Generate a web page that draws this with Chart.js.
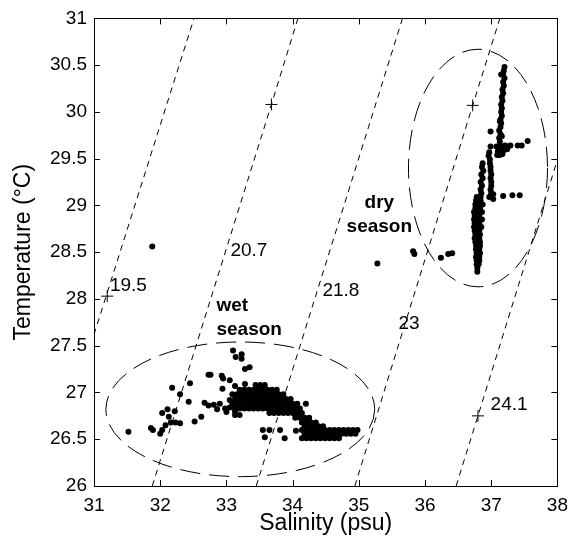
<!DOCTYPE html>
<html lang="en">
<head>
<meta charset="UTF-8">
<title>T-S diagram</title>
<script src="https://cdn.jsdelivr.net/npm/chart.js"></script>
<style>
  body { margin: 0; background: #fff; }
</style>
</head>
<body>
<canvas id="tsChart" width="576" height="548"></canvas>
<script>
const xTicks = [31, 32, 33, 34, 35, 36, 37, 38];
const yTicks = [26, 26.5, 27, 27.5, 28, 28.5, 29, 29.5, 30, 30.5, 31];

// [salinity, temperature]
const wetSeason = [
  [31.52,26.58],[31.86,26.62],[31.89,26.60],[32.00,26.56],[32.03,26.60],[32.08,26.65],[32.03,26.78],
  [32.11,26.82],[32.13,26.74],[32.16,26.68],[32.22,26.80],[32.23,26.68],[32.30,26.67],[32.18,27.05],
  [32.30,26.98],[32.45,27.10],[32.43,26.90],[32.52,26.69],[32.62,26.74],[32.67,26.89],[32.73,27.19],
  [32.76,27.19],[32.93,27.18],[32.95,27.15],[32.94,27.04],[33.05,27.13],[33.10,27.45],[33.14,27.38],
  [33.23,27.41],[33.23,27.36],[33.28,27.25],[33.35,27.27],[32.73,26.86],[32.81,26.87],[32.86,26.82],
  [32.90,26.88],[32.98,26.83],[33.00,26.79],[33.05,26.92],[33.10,26.87],[33.13,26.80],[33.05,26.84],
  [33.13,26.76],[33.20,26.76],[33.55,26.60],[33.58,26.52],[33.65,26.60],[33.81,26.60],[33.88,26.51],
  [34.05,26.59],[34.20,26.88],[33.13,27.07],[33.28,27.09],
  [33.44,27.08],[33.51,27.08],[33.58,27.08],
  [33.20,27.03],[33.27,27.03],[33.34,27.03],[33.41,27.03],[33.48,27.03],[33.55,27.03],[33.62,27.03],[33.69,27.03],[33.76,27.03],
  [33.09,26.98],[33.16,26.98],[33.23,26.98],[33.30,26.98],[33.37,26.98],[33.44,26.98],[33.51,26.98],[33.58,26.98],[33.65,26.98],[33.72,26.98],[33.79,26.98],[33.86,26.98],
  [33.13,26.93],[33.20,26.93],[33.27,26.93],[33.34,26.93],[33.41,26.93],[33.48,26.93],[33.55,26.93],[33.62,26.93],[33.69,26.93],[33.76,26.93],[33.83,26.93],[33.90,26.93],[33.97,26.93],
  [33.09,26.88],[33.16,26.88],[33.23,26.88],[33.30,26.88],[33.37,26.88],[33.44,26.88],[33.51,26.88],[33.58,26.88],[33.65,26.88],[33.72,26.88],[33.79,26.88],[33.86,26.88],[33.93,26.88],[34.00,26.88],[34.07,26.88],
  [33.13,26.83],[33.20,26.83],[33.27,26.83],[33.34,26.83],[33.41,26.83],[33.48,26.83],[33.55,26.83],[33.62,26.83],[33.69,26.83],[33.76,26.83],[33.83,26.83],[33.90,26.83],[33.97,26.83],[34.04,26.83],[34.11,26.83],
  [33.65,26.78],[33.72,26.78],[33.79,26.78],[33.86,26.78],[33.93,26.78],[34.00,26.78],[34.07,26.78],[34.14,26.78],
  [34.04,26.73],[34.11,26.73],[34.18,26.73],[34.25,26.73],
  [34.14,26.68],[34.21,26.68],[34.28,26.68],[34.35,26.68],
  [34.18,26.64],[34.25,26.64],[34.32,26.64],[34.39,26.64],[34.46,26.64],
  [34.14,26.60],[34.21,26.60],[34.28,26.60],[34.35,26.60],[34.42,26.60],[34.49,26.60],[34.56,26.60],[34.63,26.60],[34.70,26.60],[34.77,26.60],[34.84,26.60],[34.91,26.60],[34.98,26.60],
  [34.18,26.56],[34.25,26.56],[34.32,26.56],[34.39,26.56],[34.46,26.56],[34.53,26.56],[34.60,26.56],[34.67,26.56],[34.74,26.56],[34.81,26.56],[34.88,26.56],[34.95,26.56],
  [34.14,26.51],[34.21,26.51],[34.28,26.51],[34.35,26.51],[34.42,26.51],[34.49,26.51],[34.56,26.51],[34.63,26.51],[34.70,26.51]
];

const drySeason = [
  [37.20,30.48],[37.19,30.44],[37.18,30.40],[37.15,30.40],[37.20,30.36],[37.18,30.32],[37.19,30.28],
  [37.17,30.24],[37.18,30.20],[37.16,30.16],[37.17,30.12],[37.15,30.08],[37.16,30.04],[37.15,30.00],
  [37.16,29.96],[37.14,29.92],[37.15,29.88],[37.13,29.90],[37.14,29.84],[37.12,29.80],[37.14,29.76],
  [37.16,29.74],[37.12,29.72],[37.13,29.68],
  [37.08,29.63],[37.12,29.63],[37.10,29.58],[37.14,29.58],[37.09,29.54],[37.13,29.54],[37.17,29.63],
  [37.21,29.64],[37.25,29.63],[37.29,29.64],[37.19,29.59],[37.24,29.60],[37.17,29.55],
  [37.40,29.64],[37.46,29.64],[37.55,29.69],[36.99,29.79],[36.99,29.63],
  [36.97,29.57],[36.96,29.53],[36.98,29.49],[36.98,29.45],[36.99,29.41],[36.99,29.37],[37.00,29.33],
  [36.99,29.29],[37.00,29.25],[37.00,29.21],[36.99,29.17],[37.00,29.13],[37.03,29.12],[36.97,29.09],[37.03,29.07],
  [37.18,29.10],[37.32,29.11],[37.43,29.11],
  [36.87,29.45],[36.86,29.41],[36.88,29.37],[36.85,29.33],[36.87,29.29],[36.84,29.25],[36.86,29.21],[36.84,29.17],[36.85,29.13],
  [36.78,29.09],[36.84,29.09],[36.77,29.05],[36.84,29.05],[36.76,29.01],[36.83,29.01],[36.87,29.01],
  [36.76,28.97],[36.83,28.97],[36.74,28.93],[36.81,28.93],[36.86,28.93],[36.75,28.89],[36.82,28.89],
  [36.74,28.85],[36.81,28.85],[36.86,28.85],[36.75,28.81],[36.82,28.81],[36.74,28.77],[36.80,28.77],[36.85,28.77],
  [36.75,28.73],[36.82,28.73],[36.76,28.69],[36.83,28.69],[36.75,28.65],[36.82,28.65],[36.76,28.61],[36.83,28.61],
  [36.77,28.57],[36.83,28.57],[36.77,28.53],[36.82,28.53],[36.78,28.49],[36.83,28.49],[36.77,28.45],[36.82,28.45],
  [36.78,28.41],[36.82,28.41],[36.78,28.37],[36.81,28.37],[36.79,28.33],[36.79,28.29],
  [35.82,28.51],[35.84,28.48],[36.24,28.44],[36.35,28.48],[36.41,28.49],[35.28,28.38],[31.88,28.56]
];

// isopycnal (sigma-t) dashed lines
const sigmaLabels = ['19.5', '20.7', '21.8', '23', '24.1'];
const isopycnals = [
  [[31.00,27.62],[32.51,31.00]],
  [[31.88,26.00],[33.68,30.08],[34.08,31.00]],
  [[33.45,26.00],[35.66,31.00]],
  [[34.94,26.00],[36.72,30.07],[37.13,31.00]],
  [[36.47,26.00],[36.80,26.75],[38.00,29.49]]
];
const sigmaMarks = [[31.20,28.03],[33.68,30.08],[36.72,30.07],[36.80,26.75]];
const sigmaLabelAt = [[31.24,28.14],[33.06,28.51],[34.45,28.09],[35.60,27.74],[36.99,26.87]];

// ellipses: centre salinity, centre temp, half-width (psu), half-height (degC)
const ellipses = [[33.21, 26.82, 2.03, 0.72], [36.80, 29.40, 1.05, 1.27]];
const seasonText = [['wet', 'season'], ['dry', 'season']];
const seasonTextAt = [[32.85, 27.93, 'left'], [35.31, 29.03, 'center']];

const FONT = '"Liberation Sans", Arial, sans-serif';
const toXY = arr => arr.map(p => ({x: p[0], y: p[1]}));

const datasets = [
  {label: 'wet', data: toXY(wetSeason), backgroundColor: '#000', borderWidth: 0, pointRadius: 3, order: 1},
  {label: 'dry', data: toXY(drySeason), backgroundColor: '#000', borderWidth: 0, pointRadius: 3, order: 1},
  {label: 'marks', data: toXY(sigmaMarks), pointStyle: 'cross', pointRadius: 6, borderColor: '#000', borderWidth: 1, order: 2}
];
isopycnals.forEach((line, i) => {
  datasets.push({
    label: 'sigma ' + sigmaLabels[i],
    data: toXY(line),
    showLine: true,
    borderColor: '#000',
    borderWidth: 1,
    borderDash: [6, 5],
    pointRadius: 0,
    order: 3
  });
});

const overlay = {
  id: 'overlay',
  beforeDatasetsDraw(chart) {
    const ctx = chart.ctx;
    const xs = chart.scales.x, ys = chart.scales.y;
    const a = chart.chartArea;
    ctx.save();
    ctx.beginPath();
    ctx.rect(a.left, a.top, a.right - a.left, a.bottom - a.top);
    ctx.clip();
    ctx.strokeStyle = '#000';
    ctx.lineWidth = 1;
    ctx.setLineDash([20, 9]);
    ellipses.forEach(e => {
      const cx = xs.getPixelForValue(e[0]);
      const cy = ys.getPixelForValue(e[1]);
      const rx = Math.abs(xs.getPixelForValue(e[0] + e[2]) - cx);
      const ry = Math.abs(ys.getPixelForValue(e[1] + e[3]) - cy);
      ctx.beginPath();
      ctx.ellipse(cx, cy, rx, ry, 0, 0, Math.PI * 2);
      ctx.stroke();
    });
    ctx.restore();
  },
  afterDraw(chart) {
    const ctx = chart.ctx;
    const xs = chart.scales.x, ys = chart.scales.y;
    const a = chart.chartArea;
    ctx.save();
    ctx.strokeStyle = '#000';
    ctx.lineWidth = 1;
    ctx.setLineDash([]);
    ctx.strokeRect(Math.round(a.left) + 0.5, Math.round(a.top) + 0.5, Math.round(a.right - a.left), Math.round(a.bottom - a.top));
    ctx.beginPath();
    xTicks.forEach(v => {
      const px = Math.round(xs.getPixelForValue(v)) + 0.5;
      ctx.moveTo(px, a.bottom); ctx.lineTo(px, a.bottom - 6);
      ctx.moveTo(px, a.top); ctx.lineTo(px, a.top + 6);
    });
    yTicks.forEach(v => {
      const py = Math.round(ys.getPixelForValue(v)) + 0.5;
      ctx.moveTo(a.left, py); ctx.lineTo(a.left + 6, py);
      ctx.moveTo(a.right, py); ctx.lineTo(a.right - 6, py);
    });
    ctx.stroke();

    ctx.fillStyle = '#000';
    ctx.textBaseline = 'middle';
    ctx.textAlign = 'left';
    ctx.font = '19px ' + FONT;
    sigmaLabels.forEach((t, i) => {
      const p = sigmaLabelAt[i];
      ctx.fillText(t, xs.getPixelForValue(p[0]), ys.getPixelForValue(p[1]));
    });
    ctx.font = 'bold 19px ' + FONT;
    seasonText.forEach((lines, i) => {
      const p = seasonTextAt[i];
      ctx.textAlign = p[2];
      const x = xs.getPixelForValue(p[0]);
      const y = ys.getPixelForValue(p[1]);
      lines.forEach((t, k) => ctx.fillText(t, x, y + k * 24));
    });
    ctx.restore();
  }
};

new Chart(document.getElementById('tsChart'), {
  type: 'scatter',
  data: {datasets: datasets},
  options: {
    responsive: false,
    animation: false,
    events: [],
    layout: {padding: {top: 16, right: 13, bottom: 0, left: 0}},
    plugins: {legend: {display: false}, tooltip: {enabled: false}},
    scales: {
      x: {
        type: 'linear', min: 31, max: 38,
        afterBuildTicks: s => { s.ticks = xTicks.map(v => ({value: v})); },
        afterFit: s => { s.height = 62; },
        grid: {display: false, drawTicks: false},
        border: {display: false},
        ticks: {color: '#000', padding: 8, font: {family: FONT, size: 19}, callback: v => String(v), maxRotation: 0, autoSkip: false},
        title: {display: true, text: 'Salinity (psu)', color: '#000', font: {family: FONT, size: 23}, padding: {top: 0, bottom: 11}}
      },
      y: {
        type: 'linear', min: 26, max: 31,
        afterBuildTicks: s => { s.ticks = yTicks.map(v => ({value: v})); },
        afterFit: s => { s.width = 94; },
        grid: {display: false, drawTicks: false},
        border: {display: false},
        ticks: {color: '#000', padding: 7, font: {family: FONT, size: 19}, callback: v => String(v), autoSkip: false},
        title: {display: true, text: 'Temperature (\u00B0C)', color: '#000', font: {family: FONT, size: 23}, padding: {top: 10, bottom: 0}}
      }
    }
  },
  plugins: [overlay]
});
</script>
</body>
</html>
